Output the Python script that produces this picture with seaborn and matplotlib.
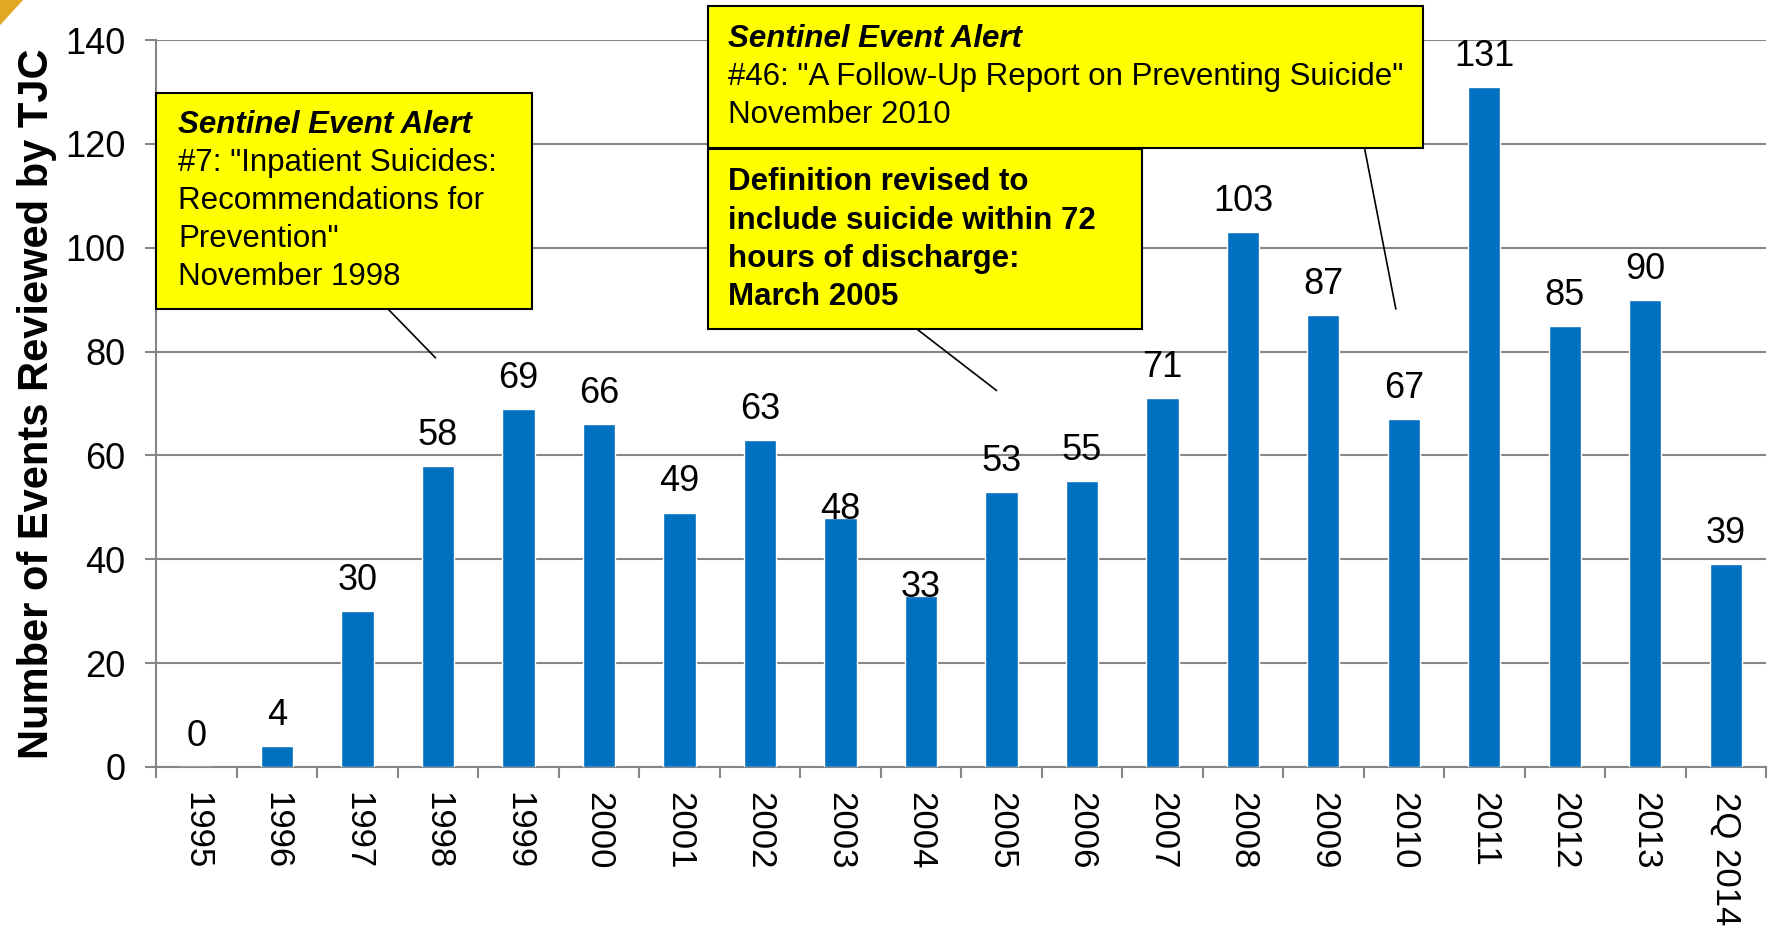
import matplotlib
matplotlib.use("Agg")
import matplotlib.pyplot as plt
import matplotlib.patches as mpatches
import seaborn as sns

# data
years = ['1995', '1996', '1997', '1998', '1999', '2000', '2001', '2002', '2003', '2004',
         '2005', '2006', '2007', '2008', '2009', '2010', '2011', '2012', '2013', '2Q 2014']
events = [0, 4, 30, 58, 69, 66, 49, 63, 48, 33, 53, 55, 71, 103, 87, 67, 131, 85, 90, 39]

# label offsets (points above the bar top); 2003 and 2004 sit lower in the original
label_offset = [22] * len(events)
label_offset[8] = 6
label_offset[9] = 6

box1_lines = ['#7: "Inpatient Suicides:', 'Recommendations for', 'Prevention"', 'November 1998']
box2_lines = ['#46: "A Follow-Up Report on Preventing Suicide"', 'November 2010']
box3_lines = ['Definition revised to', 'include suicide within 72', 'hours of discharge:', 'March 2005']

sns.set_style("white")
plt.rcParams['font.family'] = ['Liberation Sans', 'DejaVu Sans']
plt.rcParams['text.color'] = 'black'
plt.rcParams['axes.labelcolor'] = 'black'

fig = plt.figure(figsize=(17.75, 9.33), dpi=100)
ax = fig.add_axes([0.088, 0.178, 0.907, 0.779])

sns.barplot(x=years, y=events, color='#0070C0', saturation=1, width=0.4, ax=ax, zorder=3)

ax.set_ylim(0, 140)
ax.set_xlim(-0.5, len(years) - 0.5)
ax.set_yticks(range(0, 141, 20))
ax.yaxis.grid(True, color='#868686', linewidth=1.5, zorder=0)
ax.set_axisbelow(True)
for s in ['top', 'right']:
    ax.spines[s].set_visible(False)
for s in ['left', 'bottom']:
    ax.spines[s].set_color('#868686')
    ax.spines[s].set_linewidth(1.5)

ax.tick_params(axis='y', length=8, width=1.5, color='#868686', labelcolor='black',
               pad=14, labelsize=26, left=True)
ax.tick_params(axis='x', which='major', length=0, pad=18, labelsize=25, labelcolor='black')
ax.set_xticks([i - 0.5 for i in range(len(years) + 1)], minor=True)
ax.tick_params(axis='x', which='minor', length=8, width=1.5, color='#868686', bottom=True)
for lab in ax.get_xticklabels():
    lab.set_rotation(-90)

ax.set_xlabel('')
ax.set_ylabel('Number of Events Reviewed by TJC', fontsize=30, fontweight='bold', labelpad=6)

for i, v in enumerate(events):
    ax.annotate(str(v), (i, v), xytext=(0, label_offset[i]), textcoords='offset points',
                ha='center', va='center', fontsize=26, zorder=4)

# annotation boxes (data coords)
def callout(x0, x1, y0, y1, title, lines, tx, ty, step, bold=False):
    ax.add_patch(mpatches.Rectangle((x0, y0), x1 - x0, y1 - y0, facecolor='#FFFF00',
                                    edgecolor='black', linewidth=1.5, clip_on=False, zorder=5))
    k = 0
    if title:
        ax.text(tx, ty, title, fontsize=22.5, fontweight='bold', fontstyle='italic',
                va='center', ha='left', zorder=6, clip_on=False)
        k = 1
    for j, line in enumerate(lines):
        ax.text(tx, ty - (j + k) * step, line, fontsize=22.5,
                fontweight='bold' if bold else 'normal',
                va='center', ha='left', zorder=6, clip_on=False)

ax.plot([2.38, 2.97], [88.2, 78.8], color='black', linewidth=1.2, clip_on=False, zorder=5)
ax.plot([8.92, 9.94], [84.7, 72.5], color='black', linewidth=1.2, clip_on=False, zorder=5)
ax.plot([14.51, 14.9], [119.3, 88.2], color='black', linewidth=1.2, clip_on=False, zorder=5)

callout(-0.5, 4.17, 88.2, 129.8, 'Sentinel Event Alert', box1_lines, -0.23, 123.7, 7.35)
callout(6.35, 15.24, 119.3, 146.5, 'Sentinel Event Alert', box2_lines, 6.60, 140.2, 7.3)
callout(6.35, 11.75, 84.3, 119.1, None, box3_lines, 6.60, 112.6, 7.35, bold=True)

# slide corner decoration
fig.patches.append(mpatches.Polygon([[0, 1], [0.013, 1], [0, 0.973]], closed=True,
                                    transform=fig.transFigure, facecolor='#E3A822',
                                    edgecolor='none'))

fig.savefig('out.png', dpi=100)
